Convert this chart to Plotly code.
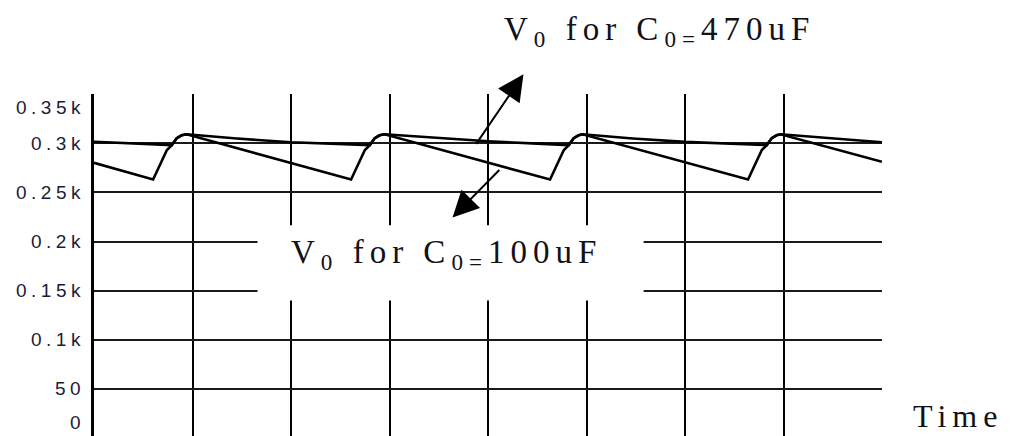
import plotly.graph_objects as go

# Output voltage of the rectifier, time in grid divisions, voltage in volts
t_100uF = [0.00, 0.60, 0.67, 0.74, 0.79, 0.84, 0.89, 0.94,
           2.61, 2.68, 2.75, 2.80, 2.85, 2.90, 2.95,
           4.63, 4.70, 4.77, 4.82, 4.87, 4.92, 4.96,
           6.64, 6.71, 6.78, 6.83, 6.88, 6.93, 6.97, 8.00]
v_100uF = [280, 263, 278, 293, 298, 305, 308, 309,
           263, 278, 293, 298, 305, 308, 309,
           263, 278, 293, 298, 305, 308, 309,
           263, 278, 293, 298, 305, 308, 309, 281]

t_470uF = [0.00, 0.79, 0.84, 0.89, 0.94, 1.45, 2.00, 2.50,
           2.80, 2.85, 2.90, 2.95, 3.45, 4.00, 4.50,
           4.82, 4.87, 4.92, 4.96, 5.47, 6.00, 6.49,
           6.83, 6.88, 6.93, 6.97, 7.48, 8.00]
v_470uF = [301.5, 298, 305, 308, 309, 304.7, 301.0, 299.0,
           298, 305, 308, 309, 305.5, 302.0, 299.5,
           298, 305, 308, 309, 304.7, 301.3, 299.0,
           298, 305, 308, 309, 304.7, 301.0]

y_tick_vals = [0, 50, 100, 150, 200, 250, 300, 350]
y_tick_text = ["0", "50", "0.1k", "0.15k", "0.2k", "0.25k", "0.3k", "0.35k"]
x_grid_vals = [1, 2, 3, 4, 5, 6, 7]

label_470 = "V<sub>0</sub> for C<sub>0=</sub>470uF"
label_100 = "V<sub>0</sub> for C<sub>0=</sub>100uF"
x_title = "Time"

X_RANGE = [0, 8]
Y_RANGE = [2.2, 350]

SERIF = "Liberation Serif, Times New Roman, serif"
SANS = "Liberation Sans, Arial, sans-serif"
INK = "#111118"


def spaced(text, px):
    return f'<span style="letter-spacing:{px}px">{text}</span>'


def paper(t, v):
    """Data position -> paper fractions, so labels outside the axes still show."""
    return ((t - X_RANGE[0]) / (X_RANGE[1] - X_RANGE[0]),
            (v - Y_RANGE[0]) / (Y_RANGE[1] - Y_RANGE[0]))


fig = go.Figure()
for t, v in ((t_470uF, v_470uF), (t_100uF, v_100uF)):
    fig.add_trace(go.Scatter(x=t, y=v, mode="lines",
                             line=dict(color="black", width=2.6),
                             showlegend=False, hoverinfo="skip"))

# white panel behind the lower caption, hiding the grid there
fig.add_shape(type="rect", xref="x", yref="y", x0=1.66, x1=5.58, y0=140, y1=216.4,
              fillcolor="white", line=dict(width=0), layer="above")

annotations = []
# y tick labels, the end ones pulled inside the frame
y_max = max(y_tick_vals)
for v, s in zip(y_tick_vals, y_tick_text):
    shift = -13 if v == y_max else (16 if v == 0 else 0)
    annotations.append(dict(x=0, xref="paper", y=paper(0, v)[1], yref="paper",
                            xanchor="right", yanchor="middle", xshift=-7, yshift=shift,
                            text=spaced(s, 4.5), showarrow=False,
                            font=dict(family=SANS, size=19, color="#1b1b38")))


def caption(text, t, v, yanchor="middle", size=33):
    px, py = paper(t, v)
    return dict(x=px, y=py, xref="paper", yref="paper", xanchor="center",
                yanchor=yanchor, text=spaced(text, 6), showarrow=False,
                font=dict(family=SERIF, size=size, color=INK))


annotations += [
    caption(label_470, 5.74, 414),
    caption(label_100, 3.58, 187),
    # axis title sits on the bottom edge of the figure
    caption(x_title, 8.77, Y_RANGE[0], yanchor="bottom", size=32),
    # pointer arrows from the two curves to their captions
    dict(x=4.36, y=370, ax=3.87, ay=297.7, xref="x", yref="y", axref="x", ayref="y",
         text="", showarrow=True, arrowhead=2, arrowsize=2.6, arrowwidth=2,
         arrowcolor="black"),
    dict(x=3.64, y=224.5, ax=4.13, ay=274.3, xref="x", yref="y", axref="x", ayref="y",
         text="", showarrow=True, arrowhead=2, arrowsize=2.6, arrowwidth=2,
         arrowcolor="black"),
]

fig.update_layout(
    width=1011, height=436,
    margin=dict(l=94, r=129, t=94, b=0, pad=0),
    paper_bgcolor="white", plot_bgcolor="white",
    annotations=annotations,
    xaxis=dict(range=X_RANGE, tickmode="array", tickvals=x_grid_vals,
               showticklabels=False, ticks="", showgrid=True,
               gridcolor="black", gridwidth=2, zeroline=False, showline=False),
    yaxis=dict(range=Y_RANGE, tickmode="array",
               tickvals=[v for v in y_tick_vals if 0 < v < y_max],
               showticklabels=False, ticks="", showgrid=True,
               gridcolor="#1a1a1a", gridwidth=2, zeroline=False,
               showline=True, linecolor="black", linewidth=3),
)

fig.write_html("out.html")
